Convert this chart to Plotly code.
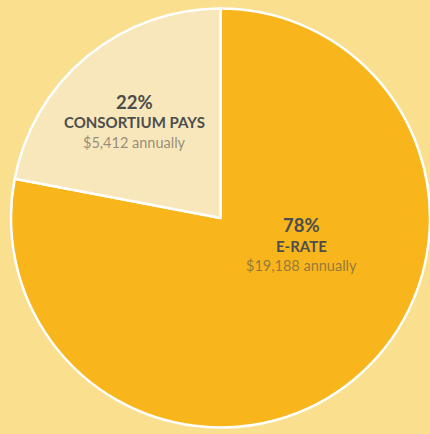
import plotly.graph_objects as go

labels = ["E-Rate", "Consortium Pays"]
shares = [78, 22]
annual = [19188, 5412]
colors = ['#F8B61C', '#F8E7BA']

fig = go.Figure(go.Pie(
    labels=labels, values=shares, sort=False, direction='clockwise', rotation=0,
    marker=dict(colors=colors, line=dict(color='#ffffff', width=2.5)),
    textinfo='none', hoverinfo='label+percent', showlegend=False,
    domain=dict(x=[0.0256, 1], y=[0.0138, 0.9816])
))

# label blocks (paper coords, centre of each text line)
spots = {"E-Rate": (301, [225, 245.5, 265.5]), "Consortium Pays": (134, [101.5, 122.5, 142.5])}
W, H = 430, 434
for lab, pct, amt in zip(labels, shares, annual):
    cx, ys = spots[lab]
    lines = [
        (f"<b>{pct}%</b>", 18.5, '#4D4D4D'),
        (f"<b>{lab.upper()}</b>", 15, '#4D4D4D'),
        (f"${amt:,} annually", 14.5, 'rgba(80,80,80,0.6)'),
    ]
    for (txt, size, col), y in zip(lines, ys):
        fig.add_annotation(x=cx / W, y=1 - y / H, xref='paper', yref='paper',
                           text=txt, showarrow=False, xanchor='center', yanchor='middle',
                           font=dict(family='Lato', size=size, color=col))

fig.update_layout(
    width=430, height=434, paper_bgcolor='#FADF8E', plot_bgcolor='#FADF8E',
    margin=dict(t=0, b=0, l=0, r=0),
)
# drop the default body margin so the figure sits flush with the window
fig.write_html("out.html", config={'displayModeBar': False},
               post_script="document.body.style.margin='0';document.body.style.overflow='hidden';")
